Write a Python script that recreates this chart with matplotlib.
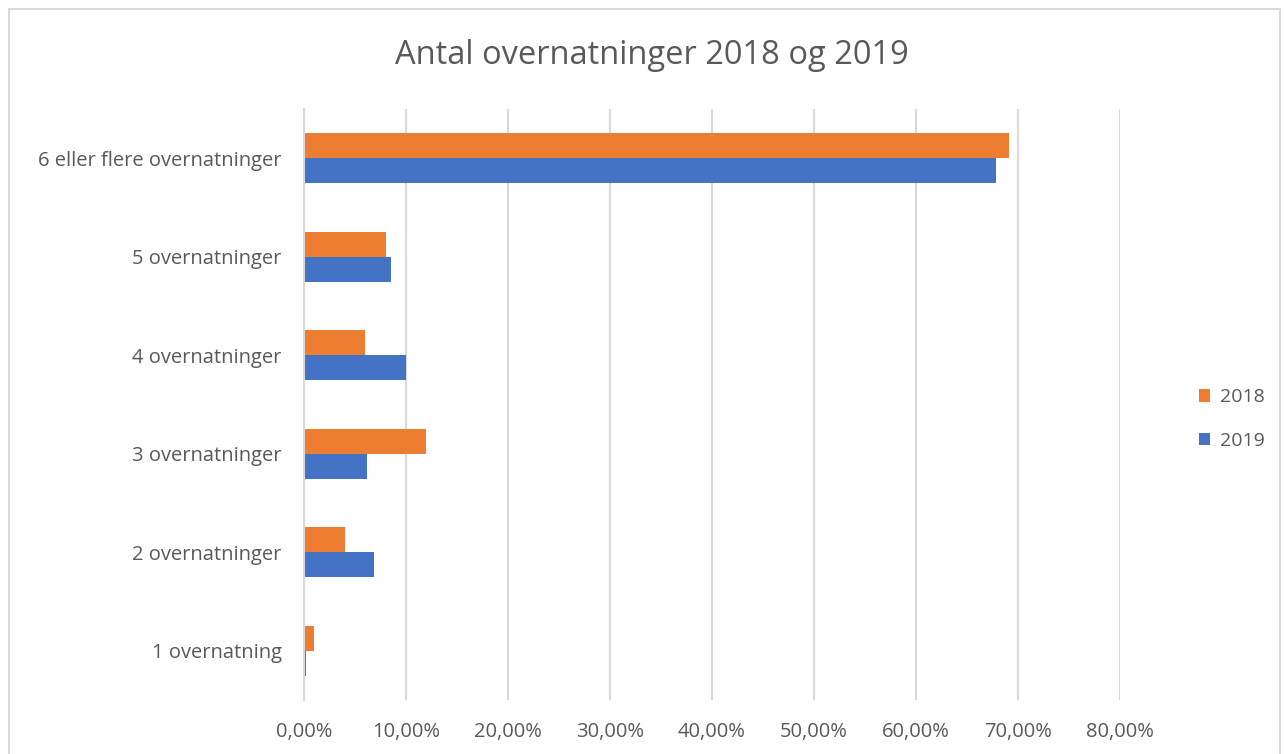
import numpy as np
from matplotlib import pyplot as plt

categories = ["1 overnatning", "2 overnatninger", "3 overnatninger",
              "4 overnatninger", "5 overnatninger", "6 eller flere overnatninger"]
share_2018 = [1.0, 4.0, 12.0, 6.0, 8.0, 69.1]
share_2019 = [0.2, 6.9, 6.2, 10.0, 8.5, 67.8]
x_ticks = [0, 10, 20, 30, 40, 50, 60, 70, 80]

plt.rcParams['font.family'] = ['Open Sans', 'DejaVu Sans']
text_col = "#595959"

fig = plt.figure(figsize=(12.85, 7.54), dpi=100)
ax = fig.add_axes([304 / 1285, 1 - 700 / 754, (1120 - 304) / 1285, (700 - 109) / 754])

y = np.arange(len(categories))
h = 0.254
ax.barh(y + h / 2, share_2018, height=h, color="#ed7d31", label="2018", zorder=3)
ax.barh(y - h / 2, share_2019, height=h, color="#4472c4", label="2019", zorder=3)

ax.set_xlim(0, 80)
ax.set_ylim(-0.5, len(categories) - 0.5)
ax.set_xticks(x_ticks)
ax.set_xticklabels([f"{v:.2f}%".replace(".", ",") for v in x_ticks])
ax.set_yticks(y)
ax.set_yticklabels(categories)
ax.tick_params(length=0, labelsize=14.5, colors=text_col)
ax.tick_params(axis='y', pad=16)
ax.tick_params(axis='x', pad=16)
ax.xaxis.grid(True, color="#d9d9d9", linewidth=1.5, zorder=0)
for s in ["top", "right", "bottom"]:
    ax.spines[s].set_visible(False)
ax.spines["left"].set_color("#d9d9d9")
ax.spines["left"].set_linewidth(1.5)
ax.spines["left"].set_zorder(4)

fig.text(652 / 1285, 1 - 56 / 754, "Antal overnatninger 2018 og 2019", ha="center", va="center",
         fontsize=23.5, color=text_col)

ax.legend(loc="center left", bbox_to_anchor=(1181 / 1285, 1 - 419 / 754),
          bbox_transform=fig.transFigure, frameon=False, fontsize=14,
          labelcolor=text_col, handlelength=0.6, handleheight=0.6,
          handletextpad=0.5, labelspacing=1.3)

# chart frame (bottom edge lies outside the picture)
fig.patches.append(plt.Rectangle((9 / 1285, -0.02), 1 - 14 / 1285, 1 - 9 / 754 + 0.02,
                                 transform=fig.transFigure, fill=False,
                                 edgecolor="#d9d9d9", linewidth=1.5))

fig.savefig("out.png", dpi=100)
